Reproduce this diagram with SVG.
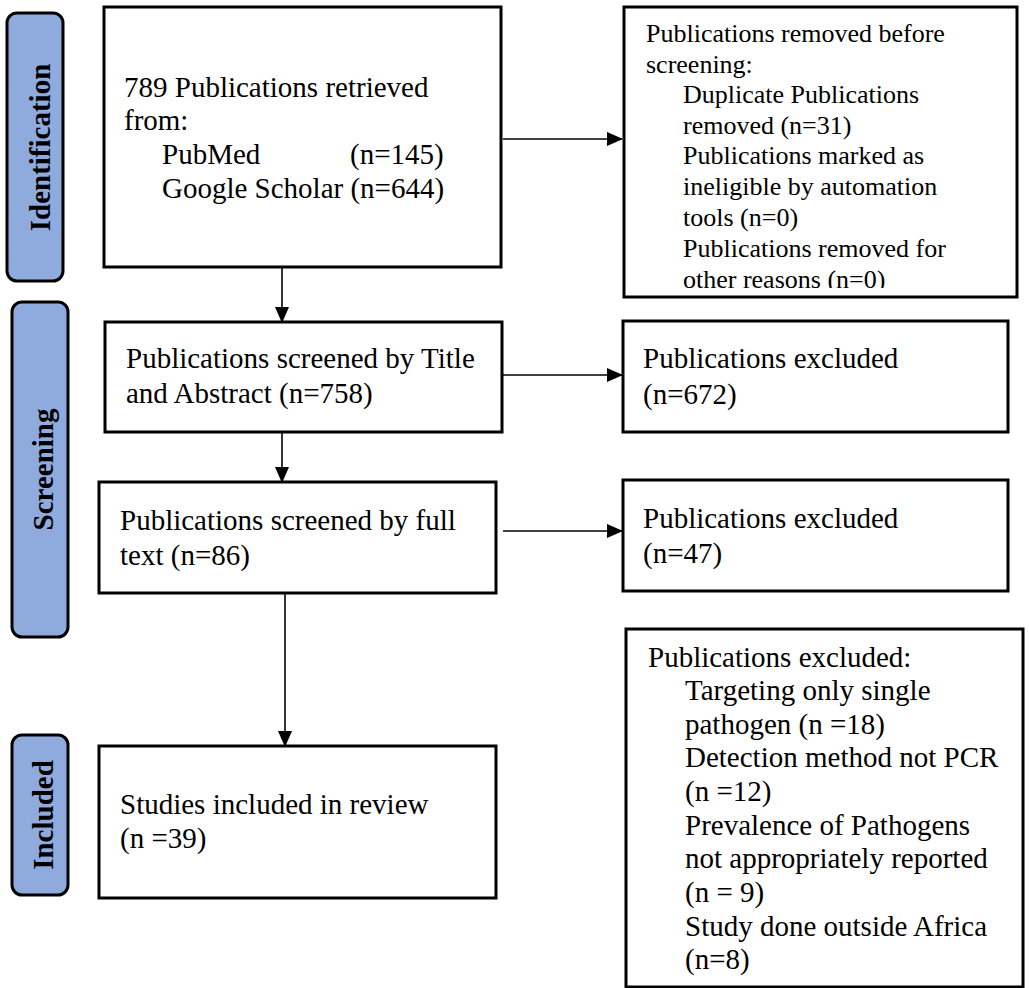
<svg xmlns="http://www.w3.org/2000/svg" width="1029" height="988" viewBox="0 0 1029 988">
<style>
.box{fill:#fff;stroke:#000;stroke-width:3}
.side{fill:#8FAADC;stroke:#000;stroke-width:3}
.t{font-family:"Liberation Serif","Times New Roman",serif;font-size:29px;fill:#000}
.t2{font-family:"Liberation Serif","Times New Roman",serif;font-size:26px;fill:#000}
.lbl{font-family:"Liberation Serif","Times New Roman",serif;font-size:29px;font-weight:bold;fill:#000;text-anchor:middle}
.c{stroke:#000;stroke-width:1.6;fill:none}
</style>
<defs>
<marker id="ah" markerWidth="16" markerHeight="14" refX="15" refY="7" orient="auto" markerUnits="userSpaceOnUse">
<path d="M0,0 L16,7 L0,14 Z" fill="#000"/>
</marker>
<clipPath id="clipR1"><rect x="624" y="7" width="393" height="281"/></clipPath>
</defs>
<rect width="1029" height="988" fill="#fff"/>

<g id="stage-identification">
<rect class="side" x="7" y="13" width="56" height="268" rx="10"/>
<text class="lbl" transform="translate(50,147.5) rotate(-90)">Identification</text>
</g>
<g id="stage-screening">
<rect class="side" x="12" y="302" width="56" height="335" rx="10"/>
<text class="lbl" transform="translate(53,469.5) rotate(-90)">Screening</text>
</g>
<g id="stage-included">
<rect class="side" x="12" y="735" width="56" height="160" rx="10"/>
<text class="lbl" transform="translate(53,815) rotate(-90)">Included</text>
</g>

<g id="connectors">
<line class="c" x1="282" y1="267" x2="282" y2="322" marker-end="url(#ah)"/>
<line class="c" x1="282" y1="432" x2="282" y2="482" marker-end="url(#ah)"/>
<line class="c" x1="285" y1="593" x2="285" y2="746" marker-end="url(#ah)"/>
<line class="c" x1="503" y1="139" x2="622" y2="139" marker-end="url(#ah)"/>
<line class="c" x1="502" y1="375" x2="622" y2="375" marker-end="url(#ah)"/>
<line class="c" x1="503" y1="531" x2="622" y2="531" marker-end="url(#ah)"/>
</g>

<g id="n-retrieved">
<rect class="box" x="104" y="7" width="397" height="260"/>
<text class="t" x="124" y="97">789 Publications retrieved</text>
<text class="t" x="124" y="130">from:</text>
<text class="t" x="162" y="164">PubMed</text>
<text class="t" x="350" y="164">(n=145)</text>
<text class="t" x="162" y="198">Google Scholar (n=644)</text>
</g>

<g id="n-removed">
<rect class="box" x="624" y="7" width="393" height="290"/>
<g clip-path="url(#clipR1)">
<text class="t2" x="646" y="42">Publications removed before</text>
<text class="t2" x="646" y="73">screening:</text>
<text class="t2" x="683" y="103">Duplicate Publications</text>
<text class="t2" x="683" y="134">removed (n=31)</text>
<text class="t2" x="683" y="164">Publications marked as</text>
<text class="t2" x="683" y="195">ineligible by automation</text>
<text class="t2" x="683" y="226">tools (n=0)</text>
<text class="t2" x="683" y="257">Publications removed for</text>
<text class="t2" x="683" y="288">other reasons (n=0)</text>
</g>
</g>

<g id="n-screened-title">
<rect class="box" x="105" y="322" width="397" height="110"/>
<text class="t" x="126" y="368">Publications screened by Title</text>
<text class="t" x="126" y="403">and Abstract (n=758)</text>
</g>

<g id="n-excluded-672">
<rect class="box" x="623" y="321" width="385" height="111"/>
<text class="t" x="643" y="368">Publications excluded</text>
<text class="t" x="643" y="404">(n=672)</text>
</g>

<g id="n-screened-full">
<rect class="box" x="99" y="482" width="397" height="111"/>
<text class="t" x="120" y="530">Publications screened by full</text>
<text class="t" x="120" y="565">text (n=86)</text>
</g>

<g id="n-excluded-47">
<rect class="box" x="623" y="480" width="385" height="111"/>
<text class="t" x="643" y="528">Publications excluded</text>
<text class="t" x="643" y="563">(n=47)</text>
</g>

<g id="n-excluded-reasons">
<rect class="box" x="626" y="629" width="397" height="358"/>
<text class="t" x="648" y="667">Publications excluded:</text>
<text class="t" x="685" y="700">Targeting only single</text>
<text class="t" x="685" y="734">pathogen (n =18)</text>
<text class="t" x="685" y="767">Detection method not PCR</text>
<text class="t" x="685" y="801">(n =12)</text>
<text class="t" x="685" y="835">Prevalence of Pathogens</text>
<text class="t" x="685" y="868">not appropriately reported</text>
<text class="t" x="685" y="902">(n = 9)</text>
<text class="t" x="685" y="936">Study done outside Africa</text>
<text class="t" x="685" y="969">(n=8)</text>
</g>

<g id="n-included">
<rect class="box" x="99" y="746" width="397" height="152"/>
<text class="t" x="120" y="814">Studies included in review</text>
<text class="t" x="120" y="848">(n =39)</text>
</g>
</svg>
